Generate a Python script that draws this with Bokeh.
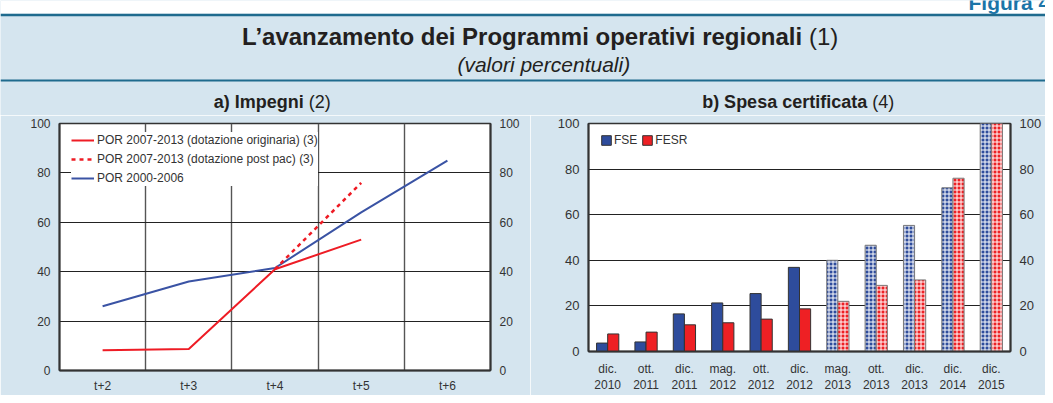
import math
from bokeh.plotting import figure
from bokeh.models import (Range1d, FixedTicker, LinearAxis, Legend, LegendItem,
                          ColumnDataSource, FactorRange)
from bokeh.layouts import column, row
from bokeh.core.properties import value, field
from bokeh.transform import dodge
from bokeh.embed import file_html
from bokeh.resources import INLINE

nan = float("nan")

# ---------------- data ----------------
fig_label = "Figura 4"
title_bold = "L’avanzamento dei Programmi operativi regionali"
title_reg = "(1)"
subtitle = "(valori percentuali)"

title_a_bold = "a) Impegni"
title_a_reg = "(2)"
periods = ["t+2", "t+3", "t+4", "t+5", "t+6"]
por_orig = [8.2, 8.7, 41.0, 53.0, nan]
por_pac = [nan, nan, 41.0, 76.0, nan]
por_0006 = [26.0, 36.0, 41.5, 64.0, 85.0]
legend_a = ["POR 2007-2013 (dotazione originaria) (3)",
            "POR 2007-2013 (dotazione post pac) (3)",
            "POR 2000-2006"]

title_b_bold = "b) Spesa certificata"
title_b_reg = "(4)"
months = ["dic.", "ott.", "dic.", "mag.", "ott.", "dic.", "mag.", "ott.", "dic.", "dic.", "dic."]
years = ["2010", "2011", "2011", "2012", "2012", "2012", "2013", "2013", "2013", "2014", "2015"]
fse = [3.7, 4.2, 16.5, 21.3, 25.4, 36.9, 40.0, 46.6, 55.3, 71.8, 100.0]
fesr = [7.7, 8.5, 11.7, 12.6, 14.2, 18.7, 22.0, 29.0, 31.4, 76.0, 100.0]
target = [False, False, False, False, False, False, True, True, True, True, True]
series_b = ["FSE", "FESR"]
y_ticks = [0, 20, 40, 60, 80, 100]

# ---------------- style ----------------
FONT = "Liberation Sans"
BG = "#D5E5EF"
DARK = "#1F6B8E"
TXT = "#333333"
TITLE = "#231F20"
RED = "#EE1C25"
BLUE = "#3A53A4"
BAR_BLUE = "#2E4C9C"
BAR_RED = "#EE2024"

W = 1045
H_TOTAL = 395
H_HEAD = 115
HP = H_TOTAL - H_HEAD
W_LEFT = 530
W_RIGHT = W - W_LEFT

# ---------------- header (also holds the panel titles) ----------------
head = figure(width=W, height=H_HEAD, x_range=Range1d(0, W), y_range=Range1d(H_HEAD, 0),
              toolbar_location=None, output_backend="svg", min_border=0,
              x_axis_type=None, y_axis_type=None, outline_line_color=None,
              background_fill_color=BG, border_fill_color=BG)
head.grid.visible = False
head.quad(left=0, right=W, top=0, bottom=13.3, fill_color="white", line_color=None)
head.quad(left=0, right=W, top=13.3, bottom=15.8, fill_color=DARK, line_color=None)
head.quad(left=0, right=W, top=79, bottom=81, fill_color=DARK, line_color=None)


def head_text(x, y, txt, size, style, align, color=TITLE):
    # the rendered baseline sits about 0.3 em below the requested one
    shift = 0.3 * size
    head.text(x=[x], y=[y - shift], text=[txt], text_font=value(FONT),
              text_font_size=f"{size}px", text_font_style=style, text_color=color,
              text_align=align, text_baseline="alphabetic")


head_text(968, 8, fig_label, 21, "bold", "left", "#1B75A8")
head_text(801.7, 42.7, title_bold, 24, "bold", "right")
head_text(808.4, 42.7, title_reg, 24, "normal", "left")
head_text(543.3, 70.5, subtitle, 21, "italic", "center")
head_text(303.3, 106.7, title_a_bold, 18, "bold", "right")
head_text(308.3, 106.7, title_a_reg, 18, "normal", "left")
head_text(866.7, 106.7, title_b_bold, 18, "bold", "right")
head_text(871.7, 106.7, title_b_reg, 18, "normal", "left")


def style_axis(ax, size="12px", standoff=9):
    ax.major_tick_in = 0
    ax.major_tick_out = 0
    ax.minor_tick_in = 0
    ax.minor_tick_out = 0
    ax.axis_line_color = "#333333"
    ax.axis_line_width = 2
    ax.major_label_text_font = FONT
    ax.major_label_text_font_size = size
    ax.major_label_text_color = TXT
    ax.major_label_standoff = standoff


# ---------------- panel a ----------------
left = figure(width=W_LEFT, height=HP, x_range=Range1d(0, len(periods)), y_range=Range1d(0, 100),
              toolbar_location=None, output_backend="svg",
              min_border_left=59, min_border_right=40, min_border_top=8, min_border_bottom=22,
              border_fill_color=BG, background_fill_color="white",
              outline_line_color="#333333", outline_line_width=1.5)
xa = [i + 0.5 for i in range(len(periods))]
left.xaxis.ticker = FixedTicker(ticks=xa)
left.xaxis.major_label_overrides = {x: lab for x, lab in zip(xa, periods)}
left.yaxis.ticker = FixedTicker(ticks=y_ticks)
left.add_layout(LinearAxis(ticker=FixedTicker(ticks=y_ticks)), "right")
for ax in left.yaxis:
    style_axis(ax, "12px", 9)
style_axis(left.xaxis[0], "12px", 8)
left.xgrid.ticker = FixedTicker(ticks=[i for i in range(1, len(periods))])
left.xgrid.grid_line_color = "#555555"
left.xgrid.grid_line_width = 1.4
left.ygrid.ticker = FixedTicker(ticks=y_ticks[1:-1])
left.ygrid.grid_line_color = "#222222"
left.ygrid.grid_line_width = 1

r3 = left.line(xa, por_0006, line_color=BLUE, line_width=2)
r1 = left.line(xa, por_orig, line_color=RED, line_width=2)
r2 = left.line(xa, por_pac, line_color=RED, line_width=2.5, line_dash="4 4")

leg_a = Legend(items=[LegendItem(label=legend_a[0], renderers=[r1]),
                      LegendItem(label=legend_a[1], renderers=[r2]),
                      LegendItem(label=legend_a[2], renderers=[r3])],
               location=(12, 184), padding=6, spacing=3, label_height=16, glyph_height=16,
               glyph_width=23, label_standoff=3, margin=0,
               background_fill_color="white", background_fill_alpha=1, border_line_color=None,
               label_text_font=FONT, label_text_font_size="12px", label_text_color=TXT)
left.add_layout(leg_a)

# ---------------- panel b ----------------
cats = [f"{m}\n{y}" for m, y in zip(months, years)]
right = figure(width=W_RIGHT, height=HP, x_range=FactorRange(factors=cats), y_range=Range1d(0, 100),
               toolbar_location=None, output_backend="svg",
               min_border_left=58, min_border_right=35, min_border_top=8, min_border_bottom=42,
               border_fill_color=BG, background_fill_color="white",
               outline_line_color="#333333", outline_line_width=1.5)
right.yaxis.ticker = FixedTicker(ticks=y_ticks)
right.add_layout(LinearAxis(ticker=FixedTicker(ticks=y_ticks)), "right")
for ax in right.yaxis:
    style_axis(ax, "13px", 9)
style_axis(right.xaxis[0], "12px", 10)
right.xgrid.visible = False
right.ygrid.ticker = FixedTicker(ticks=y_ticks[1:-1])
right.ygrid.grid_line_color = "#222222"
right.ygrid.grid_line_width = 1

src = ColumnDataSource(dict(cat=cats, fse=fse, fesr=fesr,
                            pat=["+" if t else " " for t in target],
                            edge=["#7A7A7A" if t else "#333333" for t in target]))
b1 = right.vbar(x=dodge("cat", -0.145, range=right.x_range), top="fse", width=0.29, source=src,
                fill_color=BAR_BLUE, line_color="edge", line_width=1,
                hatch_pattern=field("pat"), hatch_color="white", hatch_weight=1.0, hatch_scale=4)
b2 = right.vbar(x=dodge("cat", 0.145, range=right.x_range), top="fesr", width=0.29, source=src,
                fill_color=BAR_RED, line_color="edge", line_width=1,
                hatch_pattern=field("pat"), hatch_color="white", hatch_weight=1.0, hatch_scale=4)
leg_b = Legend(items=[LegendItem(label=series_b[0], renderers=[b1], index=0),
                      LegendItem(label=series_b[1], renderers=[b2], index=0)],
               orientation="horizontal", location=(12, 204), padding=2, spacing=4,
               label_height=14, glyph_height=12, glyph_width=12, label_standoff=2, margin=0,
               background_fill_alpha=0, border_line_color=None,
               label_text_font=FONT, label_text_font_size="12px", label_text_color=TXT)
right.add_layout(leg_b)

layout = column(head, row(column(left), column(right)))
open("out.html", "w").write(file_html(layout, INLINE))
